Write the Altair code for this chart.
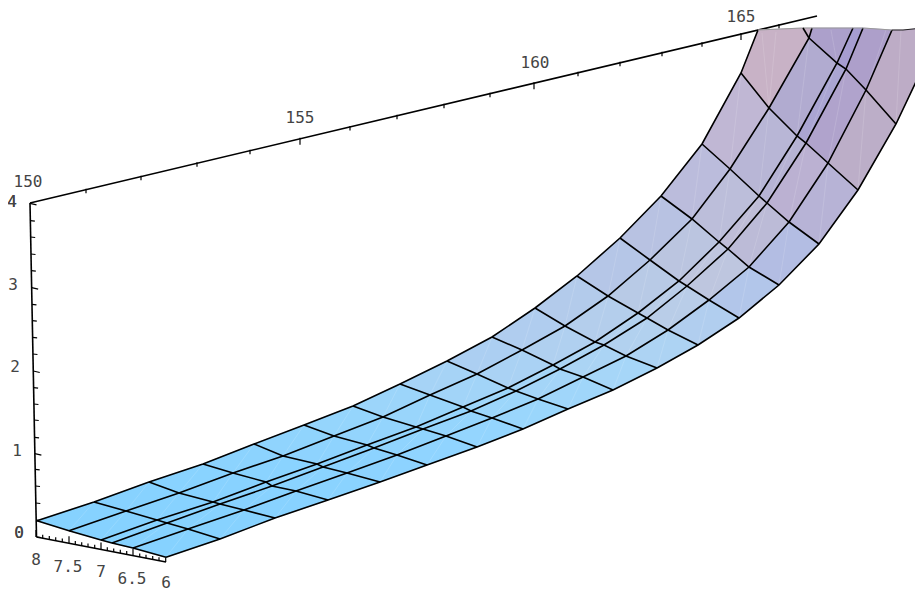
import altair as alt
import pandas as pd

# Projected surface vertices: one list per grid row, six long lines per row.
row_x = [
    [37, 69, 101, 112, 133, 166],
    [94, 126, 157, 167, 188, 220],
    [149, 179, 213, 220, 244, 275],
    [203, 233, 266, 272, 296, 328],
    [254, 283, 317, 323, 347, 380],
    [304, 334, 367, 374, 397, 427],
    [353, 383, 416, 423, 446, 477],
    [400, 430, 463, 471, 492, 523],
    [447, 477, 508, 516, 538, 568],
    [492, 522, 553, 560, 583, 613],
    [535, 565, 595, 604, 626, 657],
    [577, 608, 638, 647, 668, 698],
    [620, 650, 679, 687, 709, 739],
    [661, 692, 719, 728, 749, 779],
    [702, 730, 759, 767, 789, 819],
    [741, 769, 797, 806, 828, 858],
]
row_y = [
    [520.7, 530.7, 540, 543, 548, 557.3],
    [502, 511, 520, 523, 529, 539],
    [482, 493, 502, 504, 510, 518],
    [464, 473, 482, 486, 491, 500],
    [444, 456, 464, 467, 473, 482],
    [425, 436, 445, 448, 455, 465],
    [406, 417, 427, 429, 436, 447],
    [384, 395, 407, 411, 418, 429],
    [361, 374, 388, 391, 399, 409],
    [337, 350, 365, 369, 377, 390],
    [308, 326, 342, 345, 356, 368],
    [276, 296, 313, 318, 330, 345],
    [238, 260, 281, 286, 300, 318],
    [196, 219, 242, 249, 267, 285],
    [144, 169, 196, 203, 222, 244],
    [73, 108, 136, 143, 163, 190],
]
last_x = [809, 837, 846, 866, 896]   # last full row (long lines 1-5)
last_y = [38, 63, 69, 90, 124]
top_x = [758, 803, 812, 853, 863, 892, 903, 923]  # where the surface is cut off at the top
top_y = [30, 28, 28, 28, 28, 30, 30, 28]
right_cut = (923, 67)

cell_colors = [
    ["#86d2ff", "#86d2ff", "#86d2ff", "#86d2ff", "#86d2ff"],
    ["#87d2ff", "#87d2ff", "#87d2ff", "#87d2ff", "#87d2ff"],
    ["#89d3ff", "#88d2ff", "#88d2ff", "#88d2ff", "#88d2ff"],
    ["#8cd3fe", "#8ad3ff", "#8ad3ff", "#8ad3ff", "#8ad3ff"],
    ["#90d4fd", "#8ed3fe", "#8cd3ff", "#8cd3ff", "#8dd3ff"],
    ["#95d5fc", "#93d4fd", "#90d4fe", "#90d4fe", "#90d4ff"],
    ["#9cd5fa", "#99d5fb", "#96d5fd", "#95d5fd", "#94d5fe"],
    ["#a6d3f6", "#a2d4f8", "#9dd6fb", "#9cd6fb", "#9ad6fc"],
    ["#accff2", "#aad2f4", "#a4d5f8", "#a4d5f8", "#a0d6fa"],
    ["#b0cdef", "#b0d0f0", "#abd4f4", "#abd4f4", "#a6d6f8"],
    ["#b3cbeb", "#b4ceec", "#b2d1ef", "#b2d1ef", "#add3f3"],
    ["#b5c6e7", "#b8cae6", "#b9cde8", "#b9cde8", "#b1ceef"],
    ["#b8c2e2", "#bbc5e0", "#bfc6df", "#bec6df", "#b2c6ea"],
    ["#bbbcdc", "#bcbeda", "#bfbdd7", "#bcbbd7", "#b3bde3"],
    ["#c0b7d4", "#b8b6d6", "#b6b3d4", "#bbb1d2", "#b7b3d6"],
    ["#c8b2c6", "#b1abd0", "#aaa5d2", "#b0a3cc", "#bcaec8"],
]
top_colors = ["#c8b2c6", "#aca0cb", "#a69dd0", "#ad9fca", "#bdacc6"]

# Depth axis (top), height axis (left), width axis (bottom): ticks as projected positions
depth_axis_x = [30, 817]
depth_axis_y = [203, 16]
depth_tick_x = [86, 141, 197, 250, 300, 350, 397, 444, 490, 534, 578, 620, 662, 702, 741, 779]
depth_tick_major = [0, 0, 0, 0, 1, 0, 0, 0, 0, 1, 0, 0, 0, 0, 1, 0]
height_tick_y = [203.3, 220.7, 237, 254, 270.7, 287.7, 304.3, 320.7, 337.3, 354, 371, 387.7, 404, 420, 437.3, 453.7, 469.3, 486, 503, 520, 537]
height_tick_major = [1, 0, 0, 0, 0, 1, 0, 0, 0, 0, 1, 0, 0, 0, 0, 1, 0, 0, 0, 0, 0]
width_tick_x = [36, 42.7, 49.3, 55.7, 62.3, 69, 75.3, 81.7, 88, 94.7, 101, 107.3, 113.7, 120.3, 126.7, 133, 139.7, 146, 152.7, 159, 165.7]
width_tick_major = [1, 0, 0, 0, 0, 1, 0, 0, 0, 0, 1, 0, 0, 0, 0, 1, 0, 0, 0, 0, 1]

label_text = ["150", "155", "160", "165", "4", "4", "3", "2", "1", "0", "0", "8", "7.5", "7", "6.5", "6"]
label_x = [28, 300, 535, 741, 12, 12, 13, 15, 17, 19, 19, 36, 68, 101, 132, 166]
label_y = [182, 118, 63, 17, 202, 202, 285, 367, 451, 533, 533, 560, 567, 572, 579, 583]

X = alt.X("x:Q", scale=alt.Scale(domain=[8, 915], range=[0, 907], nice=False, zero=False), axis=None)
Y = alt.Y("y:Q", scale=alt.Scale(domain=[8, 593], range=[0, 585], nice=False, zero=False), axis=None)
X2 = alt.X2("x2:Q")
Y2 = alt.Y2("y2:Q")

# polygons
polys = []
def add_poly(pid, color, pts):
    for k, (px, py) in enumerate(pts + [pts[0]]):
        polys.append({"pid": pid, "k": k, "x": px, "y": py, "c": color})

pid = 0
for j in range(15):
    for i in range(5):
        pts = [(row_x[j][i], row_y[j][i]), (row_x[j][i + 1], row_y[j][i + 1]),
               (row_x[j + 1][i + 1], row_y[j + 1][i + 1]), (row_x[j + 1][i], row_y[j + 1][i])]
        add_poly(pid, cell_colors[j][i], pts)
        pid += 1
# last row of cells
r = row_x[15], row_y[15]
add_poly(pid, cell_colors[15][0], [(r[0][0], r[1][0]), (r[0][1], r[1][1]), (last_x[0], last_y[0]), (top_x[1], top_y[1]), (top_x[0], top_y[0])]); pid += 1
for i in range(1, 5):
    add_poly(pid, cell_colors[15][i], [(r[0][i], r[1][i]), (r[0][i + 1], r[1][i + 1]), (last_x[i], last_y[i]), (last_x[i - 1], last_y[i - 1])]); pid += 1
# cut-off top pieces
add_poly(pid, top_colors[0], [(top_x[1], top_y[1]), (last_x[0], last_y[0]), (top_x[2], top_y[2])]); pid += 1
add_poly(pid, top_colors[1], [(last_x[0], last_y[0]), (last_x[1], last_y[1]), (top_x[3], top_y[3]), (top_x[2], top_y[2])]); pid += 1
add_poly(pid, top_colors[2], [(last_x[1], last_y[1]), (last_x[2], last_y[2]), (top_x[4], top_y[4]), (top_x[3], top_y[3])]); pid += 1
add_poly(pid, top_colors[3], [(last_x[2], last_y[2]), (last_x[3], last_y[3]), (top_x[5], top_y[5]), (top_x[4], top_y[4])]); pid += 1
add_poly(pid, top_colors[4], [(last_x[3], last_y[3]), (last_x[4], last_y[4]), right_cut, (top_x[7], top_y[7]), (top_x[6], top_y[6]), (top_x[5], top_y[5])]); pid += 1
poly_df = pd.DataFrame(polys)

surface = alt.Chart(poly_df).mark_line(strokeWidth=0.6, interpolate="linear").encode(
    x=X, y=Y, order="k:Q", detail="pid:N",
    fill=alt.Fill("c:N", scale=None), stroke=alt.Stroke("c:N", scale=None))

# pale seams (each cell's diagonal)
seams = []
for j in range(15):
    for i in range(5):
        seams.append({"x": row_x[j][i + 1], "y": row_y[j][i + 1], "x2": row_x[j + 1][i], "y2": row_y[j + 1][i]})
for i in range(1, 5):
    seams.append({"x": r[0][i + 1], "y": r[1][i + 1], "x2": last_x[i - 1], "y2": last_y[i - 1]})
seams.append({"x": r[0][1], "y": r[1][1], "x2": top_x[0] + 4, "y2": top_y[0] + 3})
seams.append({"x": r[0][1], "y": r[1][1], "x2": top_x[0] + 18, "y2": top_y[0] + 2})
seams.append({"x": last_x[1], "y": last_y[1], "x2": top_x[3] - 22, "y2": top_y[3] + 2})
seams.append({"x": last_x[3], "y": last_y[3], "x2": top_x[5] - 6, "y2": top_y[5]})
seams.append({"x": last_x[4], "y": last_y[4], "x2": top_x[6] - 2, "y2": top_y[6]})
seam_layer = alt.Chart(pd.DataFrame(seams)).mark_rule(color="white", opacity=0.2, strokeWidth=0.7).encode(x=X, y=Y, x2=X2, y2=Y2)

# black grid lines
grid = []
for j in range(16):
    for i in range(6):
        grid.append({"long": i, "cross": j, "x": row_x[j][i], "y": row_y[j][i]})
for i in range(1, 6):
    grid.append({"long": i, "cross": 16, "x": last_x[i - 1], "y": last_y[i - 1]})
ends = [top_x[0], top_x[2], top_x[3], top_x[4], top_x[5], right_cut[0]]
endy = [top_y[0], top_y[2], top_y[3], top_y[4], top_y[5], right_cut[1]]
for i in range(6):
    grid.append({"long": i, "cross": 17, "x": ends[i], "y": endy[i]})
grid_df = pd.DataFrame(grid)
long_lines = alt.Chart(grid_df).mark_line(color="black", strokeWidth=1.6).encode(x=X, y=Y, detail="long:N", order="cross:Q")
cross_df = grid_df[grid_df.cross < 17]
cross_lines = alt.Chart(cross_df).mark_line(color="black", strokeWidth=1.6).encode(x=X, y=Y, detail="cross:N", order="long:Q")

top_edge = alt.Chart(pd.DataFrame({"x": top_x[:6], "y": top_y[:6], "k": range(6)})).mark_line(color="#999999", strokeWidth=1).encode(x=X, y=Y, order="k:Q")
top_edge2 = alt.Chart(pd.DataFrame({"x": top_x[5:], "y": top_y[5:], "k": range(3)})).mark_line(color="#222222", strokeWidth=1).encode(x=X, y=Y, order="k:Q")
cut_piece = alt.Chart(pd.DataFrame({"x": [last_x[0], top_x[1]], "y": [last_y[0], top_y[1]], "k": [0, 1]})).mark_line(color="black", strokeWidth=1.6).encode(x=X, y=Y, order="k:Q")

# axes
axes_rows = [
    {"x": depth_axis_x[0], "y": depth_axis_y[0], "x2": depth_axis_x[1], "y2": depth_axis_y[1]},
    {"x": 30, "y": 203, "x2": 36.5, "y2": 537},
    {"x": 36.5, "y": 537, "x2": 166, "y2": 562},
]
slope = (depth_axis_y[1] - depth_axis_y[0]) / (depth_axis_x[1] - depth_axis_x[0])
tick_rows = []
for tx, m in zip(depth_tick_x, depth_tick_major):
    ty = depth_axis_y[0] + slope * (tx - depth_axis_x[0])
    tick_rows.append({"x": tx, "y": ty - 1, "x2": tx, "y2": ty + (6 if m else 3.5)})
for ty, m in zip(height_tick_y, height_tick_major):
    tx = 30 + (ty - 203) * 6.5 / 334
    tick_rows.append({"x": tx, "y": ty, "x2": tx + (6.5 if m else 4.5), "y2": ty + (1.5 if m else 0.5)})
for tx, m in zip(width_tick_x, width_tick_major):
    ty = 537 + (tx - 36.5) * 25 / 129.5
    tick_rows.append({"x": tx, "y": ty, "x2": tx, "y2": ty - (7 if m else 3.5)})
axis_lines = alt.Chart(pd.DataFrame(axes_rows)).mark_rule(color="black", strokeWidth=1.6).encode(x=X, y=Y, x2=X2, y2=Y2)
tick_lines = alt.Chart(pd.DataFrame(tick_rows)).mark_rule(color="black", strokeWidth=1.2).encode(x=X, y=Y, x2=X2, y2=Y2)

labels = alt.Chart(pd.DataFrame({"x": label_x, "y": label_y, "t": label_text})).mark_text(
    font="DejaVu Sans Mono", fontSize=16, color="#444444", align="center", baseline="middle"
).encode(x=X, y=Y, text="t:N")

chart = alt.layer(
    tick_lines, axis_lines, surface, seam_layer, long_lines, cross_lines, top_edge, top_edge2, cut_piece, labels
).properties(width=907, height=585, padding=0, autosize=alt.AutoSizeParams(type="none")).configure_view(stroke=None)

chart.save("out.html", embed_options={"renderer": "svg", "actions": False})
